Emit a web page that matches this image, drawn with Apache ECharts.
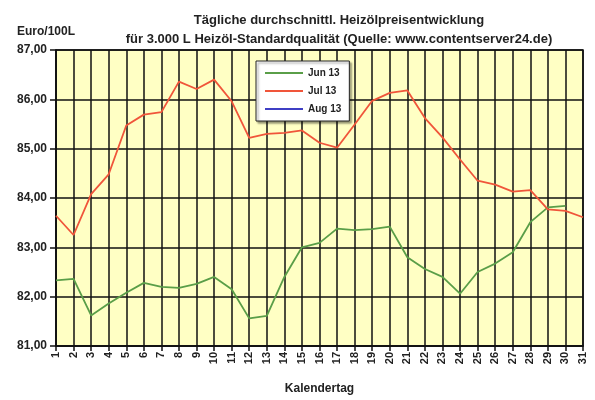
<!DOCTYPE html>
<html>
<head>
<meta charset="utf-8">
<script src="https://cdn.jsdelivr.net/npm/echarts@6/dist/echarts.min.js"></script>
<style>
  html, body { margin: 0; padding: 0; background: #fff; }
  #main { width: 595px; height: 400px; }
</style>
</head>
<body>
<div id="main"></div>
<script>
var days = [];
for (var d = 1; d <= 31; d++) days.push(String(d));

var Jun13 = [82.33, 82.36, 81.62, 81.86, 82.08, 82.28, 82.20, 82.18, 82.26, 82.40,
    82.15, 81.56, 81.61, 82.40, 83.00, 83.09, 83.38, 83.35, 83.37, 83.42,
    82.80, 82.56, 82.40, 82.06, 82.50, 82.67, 82.90, 83.51, 83.81, 83.84];
var Jul13 = [83.64, 83.25, 84.08, 84.48, 85.47, 85.69, 85.74, 86.36, 86.21, 86.40,
    85.96, 85.22, 85.30, 85.32, 85.37, 85.12, 85.02, 85.49, 85.97, 86.13,
    86.18, 85.62, 85.23, 84.78, 84.35, 84.27, 84.13, 84.16, 83.77, 83.74, 83.61];
var Aug13 = [];

var fontFam = '"Liberation Sans", Arial, sans-serif';
var myChart = echarts.init(document.getElementById('main'));
var option = {
    animation: false,
    backgroundColor: '#fff',
    title: [{
        text: 'Tägliche durchschnittl. Heizölpreisentwicklung\nfür 3.000 L Heizöl-Standardqualität (Quelle: www.contentserver24.de)',
        left: 334,
        top: 6,
        textAlign: 'center',
        textStyle: {
            fontFamily: fontFam,
            fontSize: 13,
            fontWeight: 'bold',
            color: '#222',
            lineHeight: 19
        }
    }, {
        text: 'Euro/100L',
        left: 12,
        top: 21,
        textStyle: {
            fontFamily: fontFam,
            fontSize: 12,
            fontWeight: 'bold',
            color: '#222'
        }
    }],
    legend: {
        orient: 'vertical',
        left: 256,
        top: 61,
        data: ['Jun 13', 'Jul 13', 'Aug 13'],
        icon: 'rect',
        backgroundColor: '#fff',
        borderColor: '#222',
        borderWidth: 1,
        padding: [5, 8, 5, 9],
        itemWidth: 38,
        itemHeight: 2,
        itemGap: 4,
        shadowColor: 'rgba(0,0,0,0.4)',
        shadowOffsetX: 2,
        shadowOffsetY: 2,
        shadowBlur: 2,
        textStyle: {
            fontFamily: fontFam,
            fontSize: 10,
            fontWeight: 'bold',
            color: '#222',
            lineHeight: 14
        }
    },
    grid: {
        left: 56,
        right: 12,
        top: 50,
        bottom: 51,
        show: true,
        backgroundColor: '#ffffc4',
        borderColor: '#111',
        borderWidth: 1.5
    },
    xAxis: {
        type: 'category',
        data: days,
        boundaryGap: false,
        name: 'Kalendertag',
        nameLocation: 'middle',
        nameGap: 37,
        nameTextStyle: {
            fontFamily: fontFam,
            fontSize: 12,
            fontWeight: 'bold',
            color: '#222'
        },
        axisLine: { lineStyle: { color: '#111', width: 1.5 } },
        axisTick: { show: true, length: 5, alignWithLabel: true, lineStyle: { color: '#111', width: 1.5 } },
        axisLabel: {
            rotate: 90,
            interval: 0,
            margin: 6,
            fontFamily: fontFam,
            fontSize: 11,
            fontWeight: 'bold',
            color: '#222'
        },
        splitLine: { show: true, lineStyle: { color: '#111', width: 1.5 } }
    },
    yAxis: {
        type: 'value',
        min: 81,
        max: 87,
        interval: 1,
        axisLine: { show: true, lineStyle: { color: '#111', width: 1.5 } },
        axisTick: { show: true, length: 6, lineStyle: { color: '#111', width: 1.5 } },
        axisLabel: {
            margin: 9,
            fontFamily: fontFam,
            fontSize: 12,
            fontWeight: 'bold',
            color: '#222',
            formatter: function(v) { return v.toFixed(2).replace('.', ','); }
        },
        splitLine: { show: true, lineStyle: { color: '#111', width: 1.5 } }
    },
    series: [{
        name: 'Jun 13',
        type: 'line',
        data: Jun13,
        symbol: 'none',
        color: '#5a9e48',
        lineStyle: { width: 1.8 }
    }, {
        name: 'Jul 13',
        type: 'line',
        data: Jul13,
        symbol: 'none',
        color: '#f0553a',
        lineStyle: { width: 1.8 }
    }, {
        name: 'Aug 13',
        type: 'line',
        data: Aug13,
        symbol: 'none',
        color: '#3f3fc4',
        lineStyle: { width: 1.8 }
    }]
};
myChart.setOption(option);
</script>
</body>
</html>
